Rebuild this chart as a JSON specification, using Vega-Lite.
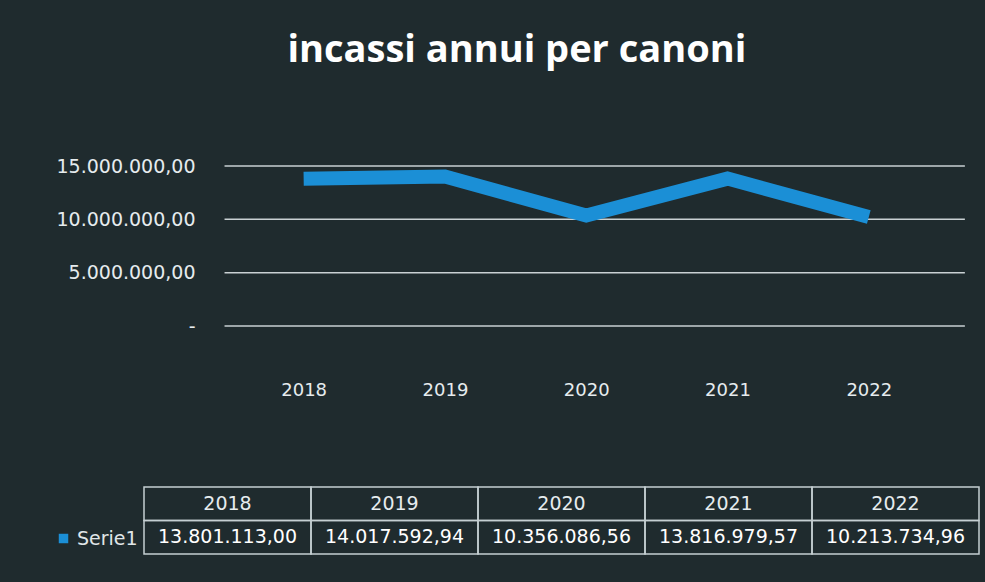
{
  "$schema": "https://vega.github.io/schema/vega-lite/v6.json",
  "background": "#1f2b2e",
  "padding": {"left": 54, "top": 32, "right": 10, "bottom": 32},
  "config": {
    "locale": {"number": {"decimal": ",", "thousands": ".", "grouping": [3], "currency": ["", " €"]}},
    "view": {"stroke": null},
    "font": "DejaVu Sans"
  },
  "title": {
    "text": "incassi annui per canoni",
    "font": "Open Sans",
    "fontSize": 38,
    "fontWeight": "bold",
    "color": "#ffffff",
    "anchor": "middle",
    "offset": 78
  },
  "data": {
    "values": [
      {"anno": 2018, "serie": "Serie1", "valore": 13801113.00},
      {"anno": 2019, "serie": "Serie1", "valore": 14017592.94},
      {"anno": 2020, "serie": "Serie1", "valore": 10356086.56},
      {"anno": 2021, "serie": "Serie1", "valore": 13816979.57},
      {"anno": 2022, "serie": "Serie1", "valore": 10213734.96}
    ]
  },
  "resolve": {"legend": {"color": "independent"}, "scale": {"color": "independent"}},
  "spacing": 87,
  "vconcat": [
    {
      "width": 835,
      "height": 160,
      "layer": [
        {
          "data": {"values": [{"v": 0}, {"v": 5000000}, {"v": 10000000}, {"v": 15000000}]},
          "mark": {"type": "rule", "color": "#c9d1d3", "strokeWidth": 1.5},
          "encoding": {
            "y": {"field": "v", "type": "quantitative", "axis": {"title": null}},
            "x": {"datum": 2017.44, "type": "quantitative"},
            "x2": {"datum": 2022.68}
          }
        },
        {
          "mark": {"type": "line", "color": "#1b8fd6", "strokeWidth": 14, "strokeJoin": "miter"},
          "encoding": {
            "x": {
              "field": "anno",
              "type": "quantitative",
              "scale": {"domain": [2016.87, 2022.78], "nice": false, "zero": false},
              "axis": {
                "title": null,
                "values": [2018, 2019, 2020, 2021, 2022],
                "format": "d",
                "domain": false,
                "ticks": false,
                "grid": false,
                "labelPadding": 55,
                "labelFontSize": 18,
                "labelColor": "#e6ecee"
              }
            },
            "y": {
              "field": "valore",
              "type": "quantitative",
              "scale": {"domain": [0, 15000000], "nice": false},
              "axis": {
                "title": null,
                "values": [0, 5000000, 10000000, 15000000],
                "labelExpr": "datum.value == 0 ? '-' : format(datum.value, ',.2f')",
                "domain": false,
                "ticks": false,
                "grid": false,
                "offset": -55,
                "labelPadding": 4,
                "labelFontSize": 19,
                "labelColor": "#e6ecee"
              }
            }
          }
        }
      ]
    },
    {
      "width": 835,
      "height": 67,
      "encoding": {
        "x": {"field": "anno", "type": "ordinal", "axis": null, "scale": {"paddingInner": 0, "paddingOuter": 0}}
      },
      "layer": [
        {
          "mark": {"type": "rect", "fill": "transparent", "stroke": "#c5cfd2", "strokeWidth": 1.5},
          "encoding": {"y": {"datum": "h", "type": "nominal", "scale": {"domain": ["h", "v"], "paddingInner": 0, "paddingOuter": 0}, "axis": null}}
        },
        {
          "mark": {"type": "rect", "fill": "transparent", "stroke": "#c5cfd2", "strokeWidth": 1.5},
          "encoding": {"y": {"datum": "v", "type": "nominal"}}
        },
        {
          "mark": {"type": "text", "color": "#e6ecee", "fontSize": 19},
          "encoding": {"y": {"datum": "h", "type": "nominal"}, "text": {"field": "anno", "type": "nominal"}}
        },
        {
          "mark": {"type": "text", "color": "#ffffff", "fontSize": 19},
          "encoding": {
            "y": {"datum": "v", "type": "nominal"},
            "text": {"field": "valore", "type": "quantitative", "format": ",.2f"}
          }
        },
        {
          "mark": {"type": "point", "shape": "square", "filled": true, "opacity": 0},
          "encoding": {
            "y": {"datum": "v", "type": "nominal"},
            "color": {
              "field": "serie",
              "type": "nominal",
              "scale": {"range": ["#1b8fd6"]},
              "legend": {
                "title": " ",
                "titleFontSize": 26,
                "titlePadding": 16,
                "orient": "left",
                "offset": 6,
                "symbolType": "square",
                "symbolSize": 90,
                "symbolOpacity": 1,
                "labelColor": "#e0e6e8",
                "labelFontSize": 19,
                "labelFont": "DejaVu Sans"
              }
            }
          }
        }
      ]
    }
  ]
}
